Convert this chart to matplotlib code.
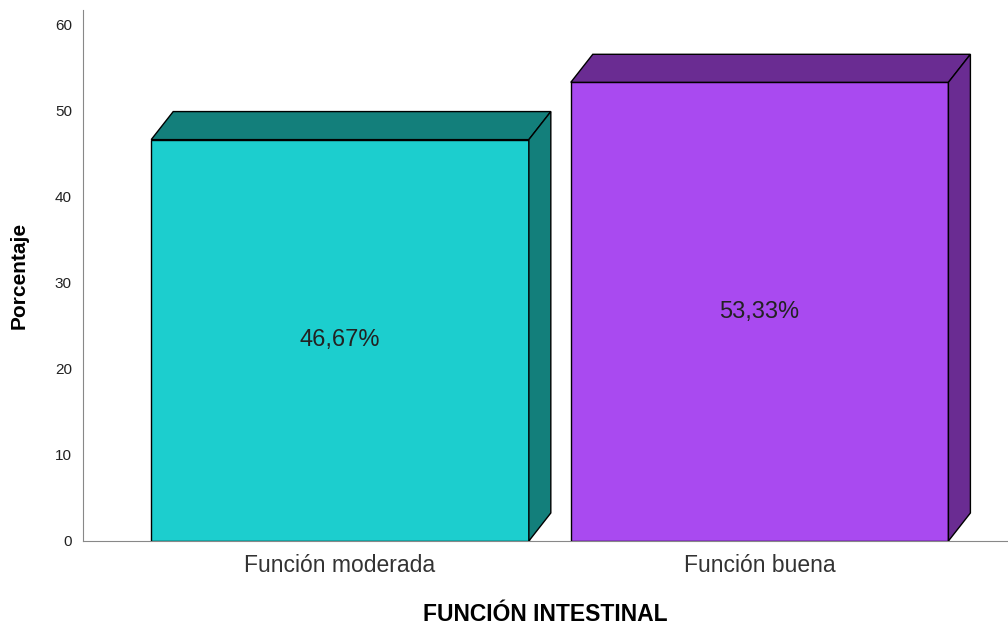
import matplotlib.pyplot as plt
from matplotlib.patches import Polygon

plt.rcParams['font.family'] = ['Liberation Sans', 'DejaVu Sans']

categorias = ['Función moderada', 'Función buena']
porcentajes = [46.67, 53.33]
etiquetas = ['46,67%', '53,33%']
frente = ['#1ccece', '#a94af0']
lado = ['#137f7b', '#6a2c92']

fig = plt.figure(figsize=(10.08, 6.25), dpi=100)
ax = fig.add_axes([83/1008, 84/625, 925/1008, 531/625])

w = 0.9
dx, dy = 0.0524, 3.26  # profundidad del efecto 3D
pos = range(len(categorias))

for i, v in enumerate(porcentajes):
    x0, x1 = i - w/2, i + w/2
    ax.bar(i, v, width=w, color=frente[i], edgecolor='black', linewidth=1, zorder=3)
    top = Polygon([(x0, v), (x0 + dx, v + dy), (x1 + dx, v + dy), (x1, v)],
                  closed=True, facecolor=lado[i], edgecolor='black', linewidth=1, zorder=3)
    side = Polygon([(x1, 0), (x1 + dx, dy), (x1 + dx, v + dy), (x1, v)],
                   closed=True, facecolor=lado[i], edgecolor='black', linewidth=1, zorder=3)
    ax.add_patch(top)
    ax.add_patch(side)
    ax.text(i, v/2, etiquetas[i], ha='center', va='center', fontsize=17, color='#222222', zorder=4)

ax.set_xlim(-0.6126, 1.592)
ax.set_ylim(0, 61.74)
ax.set_yticks([0, 10, 20, 30, 40, 50, 60])
ax.set_xticks(list(pos))
ax.set_xticklabels(categorias, fontsize=16.5, color='#333333')
ax.tick_params(axis='both', length=0)
ax.tick_params(axis='y', labelsize=11, colors='#222222', pad=8)
ax.tick_params(axis='x', pad=9)

for s in ['top', 'right']:
    ax.spines[s].set_visible(False)
ax.spines['left'].set_color('#888888')
ax.spines['bottom'].set_color('#888888')

ax.set_ylabel('Porcentaje', fontsize=15, fontweight='bold', labelpad=19)
ax.set_xlabel('FUNCIÓN INTESTINAL', fontsize=16.5, fontweight='bold', labelpad=19)

plt.savefig('out.png')
